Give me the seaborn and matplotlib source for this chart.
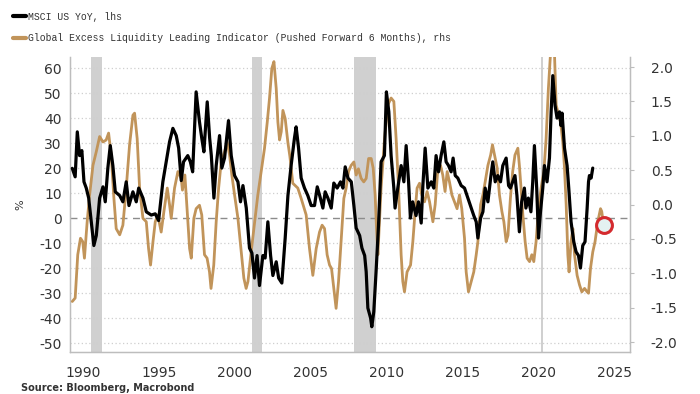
import seaborn as sns
import matplotlib.pyplot as plt
from matplotlib.lines import Line2D
import numpy as np

# MSCI US YoY (%), left axis
msci_x = [1989.30, 1989.49, 1989.63, 1989.78, 1989.93, 1990.07, 1990.22, 1990.38, 1990.55, 1990.72,
          1990.88, 1991.10, 1991.32, 1991.47, 1991.64, 1991.80, 1991.97, 1992.13, 1992.42, 1992.63,
          1992.85, 1993.03, 1993.29, 1993.51, 1993.67, 1993.95, 1994.17, 1994.50, 1994.76, 1994.98,
          1995.26, 1995.48, 1995.70, 1995.92, 1996.14, 1996.30, 1996.47, 1996.62, 1996.90, 1997.07,
          1997.22, 1997.45, 1997.67, 1997.82, 1997.96, 1998.18, 1998.34, 1998.45, 1998.62, 1998.77,
          1998.99, 1999.14, 1999.32, 1999.58, 1999.76, 1999.98, 2000.20, 2000.37, 2000.53, 2000.75,
          2000.96, 2001.12, 2001.29, 2001.46, 2001.62, 2001.84, 2001.99, 2002.17, 2002.35, 2002.50,
          2002.72, 2002.88, 2003.09, 2003.31, 2003.49, 2003.70, 2003.92, 2004.03, 2004.19, 2004.36,
          2004.58, 2004.80, 2005.02, 2005.24, 2005.42, 2005.58, 2005.79, 2005.94, 2006.12, 2006.34,
          2006.51, 2006.73, 2006.95, 2007.11, 2007.26, 2007.44, 2007.66, 2007.83, 2007.98, 2008.21,
          2008.36, 2008.54, 2008.64, 2008.75, 2008.93, 2009.01, 2009.14, 2009.29, 2009.45, 2009.62,
          2009.84, 2009.97, 2010.13, 2010.28, 2010.46, 2010.54, 2010.72, 2010.94, 2011.12, 2011.27,
          2011.43, 2011.55, 2011.70, 2011.92, 2012.08, 2012.26, 2012.37, 2012.52, 2012.70, 2012.92,
          2013.09, 2013.24, 2013.40, 2013.57, 2013.75, 2013.90, 2014.06, 2014.23, 2014.36, 2014.50,
          2014.67, 2014.89, 2015.11, 2015.33, 2015.55, 2015.72, 2015.88, 2015.99, 2016.17, 2016.32,
          2016.47, 2016.65, 2016.83, 2016.97, 2017.13, 2017.30, 2017.48, 2017.63, 2017.85, 2018.01,
          2018.13, 2018.28, 2018.43, 2018.56, 2018.72, 2018.87, 2019.05, 2019.15, 2019.31, 2019.48,
          2019.60, 2019.71, 2019.86, 2019.98, 2020.11, 2020.26, 2020.37, 2020.54, 2020.70, 2020.81,
          2020.92, 2021.07, 2021.20, 2021.36, 2021.46, 2021.53, 2021.69, 2021.86, 2021.97, 2022.12,
          2022.30, 2022.45, 2022.61, 2022.74, 2022.89, 2023.04, 2023.18, 2023.27, 2023.33, 2023.44,
          2023.55]
msci_y = [19.9, 16.5, 34.5, 25, 27, 14.5, 12, 8, -1.5, -11,
          -7, 8, 12.5, 6.5, 20, 29, 21, 10.5, 9, 6.5,
          14.5, 5, 10.5, 6.5, 12, 8, 2.5, 1.2, 1.7, -1,
          14.5, 22.5, 30.5, 35.9, 33, 28, 15, 22.5, 25, 22.5,
          18.5, 50.5, 38.5, 32, 26.5, 46.5, 32, 25, 8, 21,
          33, 20, 24, 39, 25, 17, 14.5, 6.5, 13, 4,
          -12, -14, -24, -15, -27, -15, -16, -1.5, -15, -23,
          -17.5, -24, -26, -8, 9, 21, 32, 36.5, 28, 16,
          12, 9, 5, 5, 12.5, 9, 4, 10.5, 8, 4,
          14, 12, 14.5, 12, 20.5, 16, 14.5, 5, -4, -7,
          -12, -15, -21.5, -36, -40, -43.5, -37.5, -21.5, -3, 22.5,
          25, 50.5, 42.5, 25, 12, 4, 12, 21, 14.5, 29,
          14.5, 0, 6.5, 1, 6.5, -2, 13, 28, 12, 14.5,
          12, 25, 18.5, 25, 30.5, 22.5, 21, 18.5, 24, 17,
          16, 13, 12, 8, 4, 1, -1.5, -8, 0, 2.5,
          12, 6.5, 16, 22.5, 14.5, 17, 14.5, 21, 24, 13,
          12, 14.5, 17, 9, -5.5, 6.5, 12, 4, 8, 2.5,
          14.5, 29, 12, -8, 2.5, 12, 21, 14.5, 24, 42.5,
          57, 45, 40, 42.5, 37, 42, 28, 21, 12, -1.5,
          -9.5, -13.5, -15, -20, -11, -9.5, 4, 14.5, 17, 16,
          20]

# Global Excess Liquidity Leading Indicator (pushed forward 6m), right axis
geli_x = [1989.30, 1989.49, 1989.66, 1989.84, 1989.99, 1990.10, 1990.28, 1990.44, 1990.66, 1990.88,
          1991.10, 1991.32, 1991.53, 1991.69, 1991.86, 1992.04, 1992.19, 1992.42, 1992.63, 1992.85,
          1993.07, 1993.29, 1993.40, 1993.57, 1993.73, 1993.95, 1994.17, 1994.32, 1994.45, 1994.61,
          1994.76, 1994.93, 1995.15, 1995.33, 1995.55, 1995.70, 1995.81, 1996.03, 1996.25, 1996.47,
          1996.55, 1996.71, 1996.88, 1997.02, 1997.13, 1997.30, 1997.45, 1997.67, 1997.82, 1998.00,
          1998.17, 1998.33, 1998.43, 1998.61, 1998.77, 1998.93, 1999.10, 1999.32, 1999.49, 1999.65,
          1999.80, 1999.98, 2000.20, 2000.42, 2000.59, 2000.74, 2000.86, 2001.07, 2001.30, 2001.51,
          2001.73, 2001.95, 2002.13, 2002.28, 2002.43, 2002.57, 2002.72, 2002.83, 2002.94, 2003.05,
          2003.16, 2003.31, 2003.49, 2003.62, 2003.81, 2004.14, 2004.36, 2004.69, 2004.91, 2005.13,
          2005.35, 2005.57, 2005.74, 2005.90, 2006.07, 2006.23, 2006.36, 2006.56, 2006.66, 2006.82,
          2006.99, 2007.17, 2007.32, 2007.48, 2007.65, 2007.83, 2007.98, 2008.13, 2008.31, 2008.48,
          2008.64, 2008.80, 2008.97, 2009.10, 2009.23, 2009.32, 2009.41, 2009.62, 2009.85, 2010.07,
          2010.28, 2010.46, 2010.61, 2010.77, 2010.94, 2011.05, 2011.16, 2011.33, 2011.56, 2011.71,
          2011.86, 2011.99, 2012.15, 2012.30, 2012.48, 2012.65, 2012.81, 2013.03, 2013.18, 2013.36,
          2013.53, 2013.68, 2013.83, 2013.97, 2014.12, 2014.28, 2014.45, 2014.62, 2014.78, 2014.93,
          2015.11, 2015.22, 2015.37, 2015.55, 2015.72, 2015.88, 2015.99, 2016.17, 2016.32, 2016.47,
          2016.65, 2016.83, 2016.95, 2017.09, 2017.26, 2017.41, 2017.57, 2017.70, 2017.85, 2017.97,
          2018.13, 2018.28, 2018.43, 2018.62, 2018.72, 2018.83, 2018.95, 2019.10, 2019.23, 2019.39,
          2019.54, 2019.67, 2019.82, 2019.98, 2020.15, 2020.33, 2020.48, 2020.63, 2020.77, 2021.03,
          2021.14, 2021.25, 2021.43, 2021.58, 2021.69, 2021.80, 2021.91, 2021.99, 2022.12, 2022.24,
          2022.35, 2022.52, 2022.68, 2022.83, 2023.01, 2023.18, 2023.27, 2023.40, 2023.55, 2023.70,
          2023.88, 2024.06, 2024.14, 2024.20]
geli_y = [-1.41, -1.36, -0.73, -0.49, -0.54, -0.78, -0.25, 0.14, 0.57, 0.77,
          0.99, 0.91, 0.94, 1.04, 0.72, 0.09, -0.35, -0.44, -0.30, 0.24,
          0.87, 1.30, 1.33, 0.96, 0.24, -0.20, -0.25, -0.64, -0.88, -0.54,
          -0.25, -0.15, -0.40, -0.10, 0.24, 0.0, -0.20, 0.24, 0.48, 0.38,
          0.21, 0.43, -0.15, -0.64, -0.78, -0.20, -0.06, -0.01, -0.15, -0.73,
          -0.78, -0.98, -1.22, -0.88, -0.25, 0.24, 0.62, 0.77, 0.91, 0.72,
          0.43, 0.14, -0.20, -0.69, -1.07, -1.22, -1.12, -0.69, -0.25, 0.14,
          0.48, 0.82, 1.20, 1.55, 1.98, 2.08, 1.69, 1.20, 0.94, 1.06,
          1.37, 1.25, 0.90, 0.70, 0.31, 0.24, 0.09, -0.15, -0.64, -1.03,
          -0.64, -0.40, -0.30, -0.35, -0.73, -0.88, -0.93, -1.32, -1.51, -1.12,
          -0.54, 0.09, 0.24, 0.48, 0.57, 0.62, 0.43, 0.52, 0.38, 0.33,
          0.38, 0.67, 0.67, 0.53, 0.14, -0.35, -0.73, 0.24, 0.96, 1.45,
          1.55, 1.50, 0.96, 0.24, -0.73, -1.12, -1.27, -0.98, -0.88, -0.54,
          -0.10, 0.24, 0.31, 0.14, 0.04, 0.19, 0.04, -0.25, 0.0, 0.53,
          0.57, 0.43, 0.19, 0.48, 0.33, 0.14, 0.04, -0.06, 0.14, -0.06,
          -0.49, -0.98, -1.27, -1.12, -0.98, -0.73, -0.54, 0.0, 0.14, 0.33,
          0.57, 0.72, 0.87, 0.72, 0.53, 0.14, -0.10, -0.25, -0.54, -0.45,
          0.09, 0.48, 0.72, 0.82, 0.57, 0.24, -0.15, -0.54, -0.78, -0.83,
          -0.73, -0.83, -0.54, -0.06, 0.24, 0.48, 0.96, 1.69, 2.2, 2.2,
          1.45, 1.35, 1.20, 0.91, 0.53, 0.0, -0.73, -0.98, -0.54, -0.35,
          -0.73, -1.03, -1.17, -1.27, -1.22, -1.27, -1.29, -0.93, -0.69, -0.54,
          -0.25, -0.06, -0.10, -0.20]

# US recessions (shaded)
rec_start = [1990.55, 2001.10, 2007.85, 2020.12]
rec_end = [1991.25, 2001.80, 2009.30, 2020.28]

# highlighted point (red circle)
circle_x = [2024.3]
circle_y = [-0.30]

left_ticks = [60, 50, 40, 30, 20, 10, 0, -10, -20, -30, -40, -50]
right_ticks = [2.0, 1.5, 1.0, 0.5, 0.0, -0.5, -1.0, -1.5, -2.0]
x_ticks = [1990, 1995, 2000, 2005, 2010, 2015, 2020, 2025]

sns.set_style("white")
plt.rcParams['font.family'] = ['DejaVu Sans']
plt.rcParams['axes.unicode_minus'] = False

gold = "#c1945a"
txt = "#333333"
spine_c = "#bdbdbd"

fig = plt.figure(figsize=(7, 3.94), dpi=100)
ax = fig.add_axes([0.1, 0.1066, 0.8, 0.7484])
ax2 = ax.twinx()
ax3 = ax.twinx()

# shading, grid, zero line on the bottom axes
for s, e in zip(rec_start, rec_end):
    ax.axvspan(s, e, color="#d0d0d0", lw=0, zorder=0)
for t in left_ticks:
    if t != 0:
        ax.axhline(t, color="#cfcfcf", lw=0.9, ls=(0, (1, 2)), zorder=1)
ax.axhline(0, color="#8c8c8c", lw=1.0, ls=(0, (5, 4)), zorder=1)

sns.lineplot(x=geli_x, y=geli_y, ax=ax2, color=gold, lw=2.0, sort=False, zorder=3)
ax2.scatter(circle_x, circle_y, s=130, facecolor="#e4f1f1", edgecolor="#d42a2e",
            linewidth=2.2, zorder=5)
sns.lineplot(x=msci_x, y=msci_y, ax=ax3, color="black", lw=2.3, sort=False, zorder=4)

ax.set_xlim(1989.15, 2026)
ax.set_ylim(-53.6, 64.4)
ax3.set_ylim(-53.6, 64.4)
ax2.set_ylim(-2.145, 2.145)

ax.set_xticks(x_ticks)
ax.set_yticks(left_ticks)
ax2.set_yticks(right_ticks)
ax2.set_yticklabels([f"{t:.1f}" for t in right_ticks])
ax3.set_yticks([])

ax.tick_params(axis="x", length=4, width=0.8, color=spine_c, pad=6, labelsize=10, labelcolor=txt)
ax.tick_params(axis="y", length=0, pad=6, labelsize=10, labelcolor=txt)
ax2.tick_params(axis="y", length=3, width=0.8, color=spine_c, pad=12, labelsize=10, labelcolor=txt)

for a in (ax, ax2, ax3):
    a.spines["top"].set_visible(False)
    for side in ("left", "right", "bottom"):
        a.spines[side].set_color(spine_c)
        a.spines[side].set_linewidth(0.9)
for side in ("left", "right", "bottom"):
    ax3.spines[side].set_visible(False)
ax.set_xlabel("")
ax2.set_ylabel("")
ax.set_ylabel("%", fontsize=8, color=txt, labelpad=10)

handles = [Line2D([], [], color="black", lw=3),
           Line2D([], [], color=gold, lw=3)]
labels = ["MSCI US YoY, lhs",
          "Global Excess Liquidity Leading Indicator (Pushed Forward 6 Months), rhs"]
leg = fig.legend(handles, labels, loc="upper left", bbox_to_anchor=(0.006, 0.992),
                 frameon=False, handlelength=1.3, handletextpad=0.25, labelspacing=1.15,
                 prop={"family": "Liberation Mono", "size": 7.0})
for t in leg.get_texts():
    t.set_color(txt)

fig.text(0.03, 0.003, "Source: Bloomberg, Macrobond", fontsize=7, color=txt,
         fontweight="bold", va="bottom")

fig.savefig("out.png", dpi=100)
